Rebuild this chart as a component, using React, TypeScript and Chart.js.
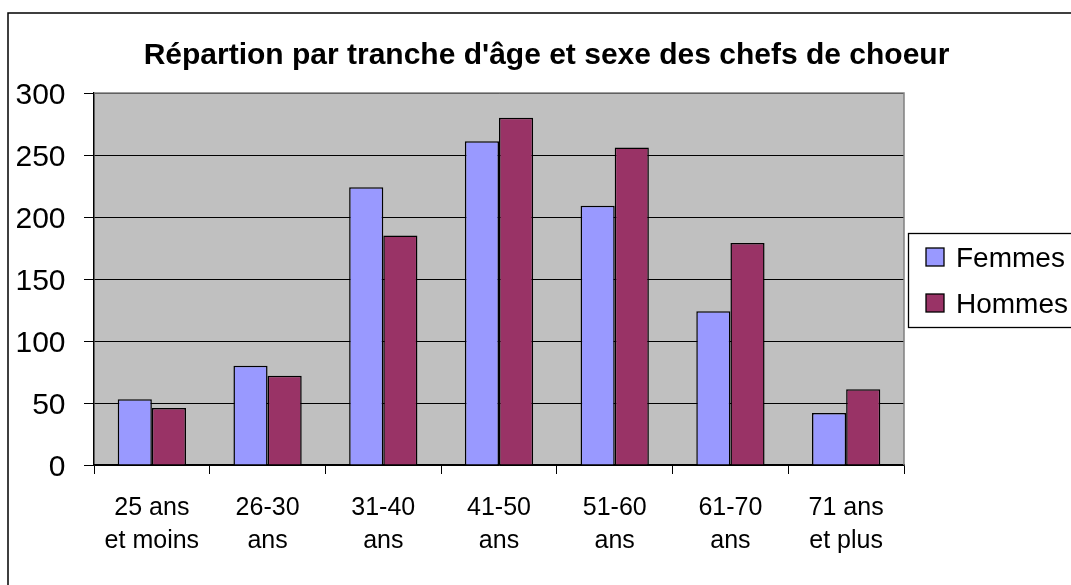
import React, { useEffect, useRef } from "react";
import { Chart, registerables } from "chart.js";

Chart.register(...registerables);

const categories: string[][] = [
  ["25 ans", "et moins"],
  ["26-30", "ans"],
  ["31-40", "ans"],
  ["41-50", "ans"],
  ["51-60", "ans"],
  ["61-70", "ans"],
  ["71 ans", "et plus"],
];
const femmes: number[] = [53, 80, 224, 261, 209, 124, 42];
const hommes: number[] = [46, 72, 185, 280, 256, 179, 61];
const seriesNames: string[] = ["Femmes", "Hommes"];
const seriesColors: string[] = ["#9999FF", "#993366"];
const titleText = "Répartion par tranche d'âge et sexe des chefs de choeur";

const FONT = "'Liberation Sans', Arial, sans-serif";

const decorPlugin = {
  id: "decor",
  beforeDraw(chart: any) {
    const { ctx, chartArea } = chart;
    ctx.save();
    ctx.fillStyle = "#ffffff";
    ctx.fillRect(0, 0, chart.width, chart.height);
    ctx.fillStyle = "#C0C0C0";
    ctx.fillRect(chartArea.left, chartArea.top, chartArea.right - chartArea.left, chartArea.bottom - chartArea.top);
    ctx.restore();
  },
  afterDraw(chart: any) {
    const { ctx, chartArea } = chart;
    ctx.save();
    // plot area top/right gray border
    ctx.strokeStyle = "#808080";
    ctx.lineWidth = 1.5;
    ctx.beginPath();
    ctx.moveTo(chartArea.left, chartArea.top);
    ctx.lineTo(chartArea.right, chartArea.top);
    ctx.lineTo(chartArea.right, chartArea.bottom);
    ctx.stroke();

    // outer chart border
    ctx.strokeStyle = "#000000";
    ctx.lineWidth = 1.5;
    ctx.strokeRect(8, 13, chart.width + 20, chart.height + 20);

    // title
    ctx.fillStyle = "#000000";
    ctx.font = `bold 30px ${FONT}`;
    ctx.textAlign = "center";
    ctx.textBaseline = "alphabetic";
    ctx.fillText(titleText, 546.5, 63.5);

    // legend
    ctx.lineWidth = 1.3;
    ctx.strokeStyle = "#000000";
    ctx.strokeRect(908.5, 233.5, 200, 94);
    const rows = [257, 303];
    ctx.font = `28px ${FONT}`;
    ctx.textAlign = "left";
    seriesNames.forEach((name, i) => {
      const cy = rows[i];
      ctx.fillStyle = seriesColors[i];
      ctx.fillRect(926, cy - 9, 18, 18);
      ctx.lineWidth = 1.3;
      ctx.strokeRect(926, cy - 9, 18, 18);
      ctx.fillStyle = "#000000";
      ctx.fillText(name, 956, cy + 10);
    });
    ctx.restore();
  },
};

export default function App() {
  const ref = useRef<HTMLCanvasElement | null>(null);
  useEffect(() => {
    if (!ref.current) return;
    const chart = new Chart(ref.current, {
      type: "bar",
      data: {
        labels: categories,
        datasets: [
          {
            label: seriesNames[0],
            data: femmes,
            backgroundColor: seriesColors[0],
            borderColor: "#000000",
            borderWidth: 1.5,
            categoryPercentage: 0.59,
            barPercentage: 1,
          },
          {
            label: seriesNames[1],
            data: hommes,
            backgroundColor: seriesColors[1],
            borderColor: "#000000",
            borderWidth: 1.5,
            categoryPercentage: 0.59,
            barPercentage: 1,
          },
        ],
      },
      options: {
        responsive: false,
        animation: false,
        layout: { padding: { top: 93, right: 167, left: 8, bottom: 0 } },
        plugins: {
          legend: { display: false },
          title: { display: false },
          tooltip: { enabled: false },
        },
        scales: {
          x: {
            offset: true,
            afterFit: (scale: any) => {
              scale.height = 120;
            },
            grid: {
              display: true,
              offset: true,
              drawOnChartArea: false,
              drawTicks: true,
              tickLength: 9,
              color: "#000000",
              lineWidth: 1,
            },
            border: { display: true, color: "#000000", width: 1.5 },
            ticks: {
              color: "#000000",
              padding: 17.5,
              maxRotation: 0,
              autoSkip: false,
              font: { family: FONT, size: 25, lineHeight: 1.32 },
            },
          },
          y: {
            min: 0,
            max: 300,
            afterFit: (scale: any) => {
              scale.width = 86;
            },
            grid: {
              color: "#000000",
              lineWidth: 1,
              drawTicks: true,
              tickLength: 10,
            },
            border: { display: true, color: "#000000", width: 1.5 },
            ticks: {
              stepSize: 50,
              color: "#000000",
              padding: 18.5,
              labelOffset: 3,
              font: { family: FONT, size: 30 },
            },
          },
        },
      },
      plugins: [decorPlugin],
    });
    return () => chart.destroy();
  }, []);
  return (
    <div style={{ position: "fixed", left: 0, top: 0, width: 1071, height: 585, overflow: "hidden" }}>
      <canvas ref={ref} width={1071} height={585} style={{ display: "block" }} />
    </div>
  );
}
